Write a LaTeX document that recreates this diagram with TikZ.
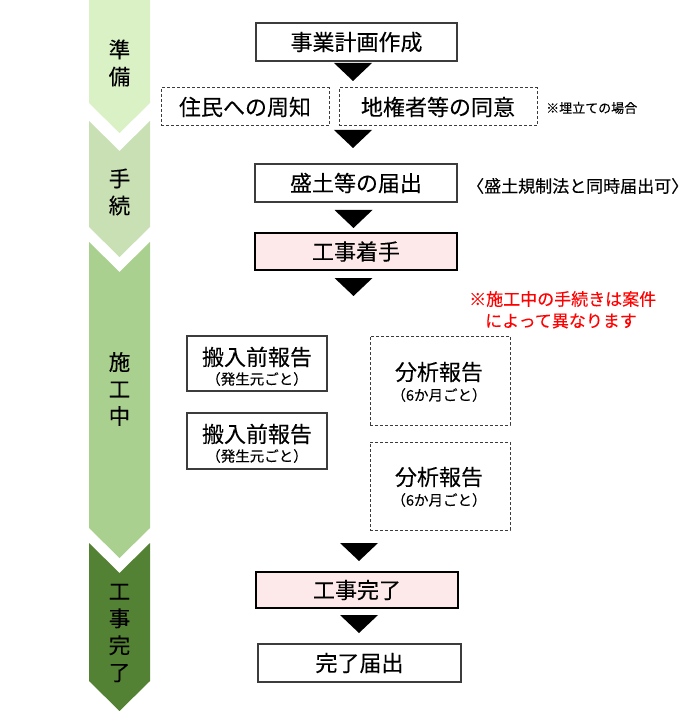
\documentclass[tikz,border=0pt]{standalone}
\usepackage{fontspec}
\setmainfont[FakeBold=0.15]{Noto Sans CJK JP}
\definecolor{pinkfill}{RGB}{253,233,233}
\definecolor{segA}{RGB}{218,241,198}
\definecolor{segB}{RGB}{200,224,180}
\definecolor{segC}{RGB}{169,208,142}
\definecolor{segD}{RGB}{84,130,53}
\definecolor{boxline}{RGB}{60,60,60}
\begin{document}
\begin{tikzpicture}[x=1pt,y=-1pt,
  big/.style={font=\fontsize{22}{26}\selectfont},
  small/.style={font=\fontsize{14.5}{16}\selectfont},
  note/.style={font=\fontsize{17}{22}\selectfont, inner sep=0pt},
  box/.style={draw=boxline, line width=1.2pt, inner sep=0pt, big},
  pinkbox/.style={draw=black, line width=1.8pt, fill=pinkfill, inner sep=0pt, big},
  dbox/.style={draw=boxline, line width=1pt, dash pattern=on 3pt off 2pt, inner sep=0pt, big},
  segtext/.style={align=center, inner sep=0pt, font=\fontsize{21.5}{27}\selectfont},
  tri/.style={fill=black}]
\useasboundingbox (0,0) rectangle (690,711);

% stage chevrons
\fill[segA] (89,0) -- (150,0) -- (150,103) -- (119.5,133) -- (89,103) -- cycle;
\fill[segB] (89,121) -- (119.5,151) -- (150,121) -- (150,227) -- (119.5,257) -- (89,227) -- cycle;
\fill[segC] (89,242) -- (119.5,272) -- (150,242) -- (150,528) -- (119.5,558) -- (89,528) -- cycle;
\fill[segD] (89,543) -- (119.5,573) -- (150,543) -- (150,681) -- (119.5,711) -- (89,681) -- cycle;
\node[segtext] (s1) at (119.5,63) {準\\備};
\node[segtext] (s2) at (119.5,192) {手\\続};
\node[segtext] (s3) at (119.5,389) {施\\工\\中};
\node[segtext] (s4) at (119.5,633) {工\\事\\完\\了};

% main flow boxes
\node[box, minimum width=201pt, minimum height=38pt] (plan) at (356.5,42) {事業計画作成};
\node[dbox, minimum width=168pt, minimum height=38pt] (notice) at (245,107) {住民への周知};
\node[dbox, minimum width=198pt, minimum height=38pt] (consent) at (438,107) {地権者等の同意};
\node[font=\fontsize{13}{15}\selectfont, inner sep=0pt, anchor=west] (umetate) at (546,108) {※埋立ての場合};
\node[box, minimum width=202pt, minimum height=38pt] (todoke) at (356,183) {盛土等の届出};
\node[note, anchor=west] (kisei) at (467,186) {〈盛土規制法と同時届出可〉};
\node[pinkbox, minimum width=202pt, minimum height=37pt] (start) at (356,251.5) {工事着手};
\node[note, text=red, anchor=west] (red1) at (469,299) {※施工中の手続きは案件};
\node[note, text=red, anchor=west] (red2) at (485,321) {によって異なります};

% reports during construction
\node[box, minimum width=140pt, minimum height=55pt] (hannyu1) at (257,363.5) {};
\node[big, inner sep=0pt] (h1a) at (257,357) {搬入前報告};
\node[small, inner sep=0pt] (h1b) at (257,379) {（発生元ごと）};
\node[box, minimum width=140pt, minimum height=56pt] (hannyu2) at (257,441) {};
\node[big, inner sep=0pt] (h2a) at (257,434) {搬入前報告};
\node[small, inner sep=0pt] (h2b) at (257,456) {（発生元ごと）};
\node[dbox, minimum width=140pt, minimum height=89pt] (bunseki1) at (440,380.5) {};
\node[big, inner sep=0pt] (b1a) at (439,372) {分析報告};
\node[small, inner sep=0pt] (b1b) at (439,395) {（6か月ごと）};
\node[dbox, minimum width=140pt, minimum height=88pt] (bunseki2) at (440,486) {};
\node[big, inner sep=0pt] (b2a) at (439,477) {分析報告};
\node[small, inner sep=0pt] (b2b) at (439,500) {（6か月ごと）};

\node[pinkbox, minimum width=202pt, minimum height=36pt] (finish) at (357,590) {工事完了};
\node[box, minimum width=203pt, minimum height=38pt] (report) at (359.5,663) {完了届出};

% flow triangles
\foreach \cx/\cy in {353/63, 353/130, 353.5/210, 353.5/278, 359/543, 359/615}
  \fill[tri] (\cx-19,\cy) -- (\cx+19,\cy) -- (\cx,\cy+18) -- cycle;
\end{tikzpicture}
\end{document}
